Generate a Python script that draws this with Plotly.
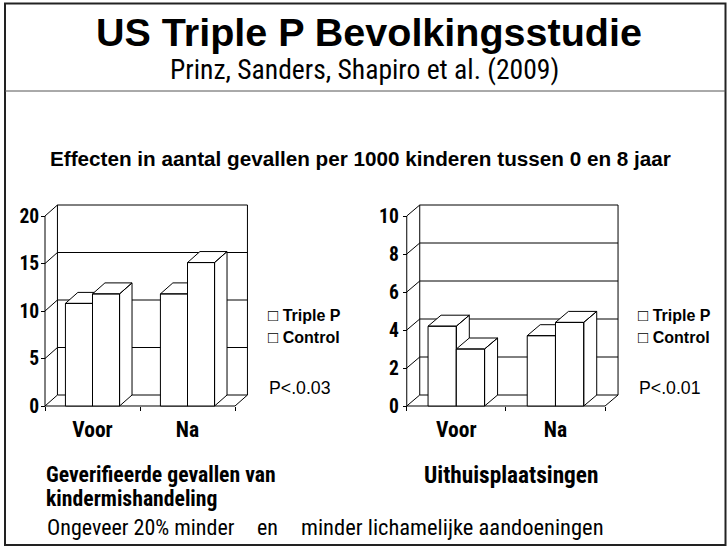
import plotly.graph_objects as go

# ---------------- data ----------------
categories = ["Voor", "Na"]
series_names = ["Triple P", "Control"]

mishandeling_triple_p = [10.8, 11.8]
mishandeling_control = [11.8, 15.1]
mishandeling_ticks = [0, 5, 10, 15, 20]

uithuis_triple_p = [4.2, 3.7]
uithuis_control = [3.0, 4.4]
uithuis_ticks = [0, 2, 4, 6, 8, 10]

# ---------------- layout helpers ----------------
W, H = 727, 546
ARIAL = "Liberation Sans, Arial, sans-serif"
NARROW = "Roboto Condensed, Arial Narrow, Liberation Sans, sans-serif"


def px(x):
    return x / W


def py(y):
    return 1 - y / H


BAR_W = 0.285
DX = 0.131  # depth offset in category units


def frame_xy(ticks, dy, x0=-0.5, x1=1.5):
    xs, ys = [], []
    ymax = max(ticks)

    def seg(a, b):
        xs.extend([a[0], b[0], None])
        ys.extend([a[1], b[1], None])

    for v in ticks:
        seg((x0 + DX, v + dy), (x1 + DX, v + dy))
        seg((x0, v), (x0 + DX, v + dy))
    seg((x0 + DX, dy), (x0 + DX, ymax + dy))
    seg((x1 + DX, dy), (x1 + DX, ymax + dy))
    seg((x0, 0), (x0, ymax))
    seg((x0, 0), (x1, 0))
    seg((x1, 0), (x1 + DX, dy))
    return xs, ys


def bar_xy(left, v, dy):
    r = left + BAR_W
    xs = [left, r, r, left, left, None,
          left, r, r + DX, left + DX, left, None,
          r, r + DX, r + DX, r, r]
    ys = [0, 0, v, v, 0, None,
          v, v, v + dy, v + dy, v, None,
          0, dy, v + dy, v, 0]
    return xs, ys


fig = go.Figure()


def add_chart(xa, ya, tp, ctrl, ticks, dy):
    fx, fy = frame_xy(ticks, dy)
    fig.add_trace(go.Scatter(x=fx, y=fy, mode="lines", xaxis=xa, yaxis=ya,
                             line=dict(color="black", width=1),
                             hoverinfo="skip", showlegend=False))
    for i, cat in enumerate(categories):
        for j, vals in enumerate([tp, ctrl]):
            left = i - BAR_W + j * BAR_W
            bx, by = bar_xy(left, vals[i], dy)
            fig.add_trace(go.Scatter(x=bx, y=by, mode="lines", fill="toself",
                                     fillcolor="white", xaxis=xa, yaxis=ya,
                                     line=dict(color="black", width=1),
                                     name=f"{series_names[j]} {cat}",
                                     hoverinfo="skip", showlegend=False))


add_chart("x", "y", mishandeling_triple_p, mishandeling_control, mishandeling_ticks, 1.158)
add_chart("x2", "y2", uithuis_triple_p, uithuis_control, uithuis_ticks, 0.579)

tickfont_y = dict(family=NARROW, size=19.5, color="black", weight="bold")
tickfont_x = dict(family=NARROW, size=21.5, color="black", weight="bold")


def xaxis_cfg(domain):
    return dict(domain=domain, range=[-0.8, 1.8], anchor="free", position=py(406),
                showgrid=False, zeroline=False, showline=False,
                tickmode="array", tickvals=[0, 1], ticktext=categories,
                ticks="", tickfont=tickfont_x, ticklabelstandoff=8,
                minor=dict(tickmode="array", tickvals=[-0.5, 0.5, 1.5],
                           ticks="outside", ticklen=4, tickcolor="black", tickwidth=1),
                fixedrange=True)


def yaxis_cfg(rng, ticks, pos, standoff):
    return dict(domain=[py(420.25), py(192.25)], range=rng, anchor="free", position=pos,
                showgrid=False, zeroline=False, showline=False,
                tickmode="array", tickvals=ticks, ticks="outside", ticklen=4,
                tickcolor="black", tickwidth=1, tickfont=tickfont_y,
                ticklabelstandoff=standoff, fixedrange=True)


anns = []


def ann(text, x, y, size, family=ARIAL, bold=False, xanchor="left"):
    f = dict(family=family, size=size, color="black", weight="bold" if bold else "normal")
    anns.append(dict(text=text, x=px(x), y=py(y), xref="paper", yref="paper",
                     xanchor=xanchor, yanchor="middle", showarrow=False, font=f))


ann("US Triple P Bevolkingsstudie", 368.5, 32, 39.5, ARIAL, True, "center")
ann("Prinz, Sanders, Shapiro et al. (2009)", 364, 69, 27.6, NARROW, False, "center")
ann("Effecten in aantal gevallen per 1000 kinderen tussen 0 en 8 jaar", 360.5, 158, 20.7, ARIAL, True, "center")

sq = '<span style="font-size:17px;font-weight:normal">□</span>'
for lx, ptxt in [(265.5, "P<.0.03"), (635.5, "P<.0.01")]:
    ann(sq + " " + series_names[0], lx, 315.5, 16, ARIAL, True)
    ann(sq + " " + series_names[1], lx, 337, 16, ARIAL, True)
    ann(ptxt, lx + 1, 388, 17.7, ARIAL, False)

ann("Geverifieerde gevallen van", 44, 474, 21.7, NARROW, True)
ann("kindermishandeling", 44, 498, 21.7, NARROW, True)
ann("Uithuisplaatsingen", 510.7, 475, 23.3, NARROW, True, "center")
ann("Ongeveer 20% minder", 45, 527, 22, NARROW, False)
ann("en", 255, 527, 22, NARROW, False)
ann("minder lichamelijke aandoeningen", 299, 527, 22.5, NARROW, False)

shapes = [
    dict(type="rect", xref="paper", yref="paper", x0=px(5), x1=px(725.5),
         y0=py(545), y1=py(3.5), line=dict(color="#222", width=2)),
    dict(type="line", xref="paper", yref="paper", x0=px(5), x1=px(725.5),
         y0=py(91), y1=py(91), line=dict(color="#555", width=1)),
]

fig.update_layout(
    width=W, height=H, margin=dict(l=0, r=0, t=0, b=0),
    paper_bgcolor="white", plot_bgcolor="rgba(0,0,0,0)",
    showlegend=False,
    xaxis=xaxis_cfg([px(16.5), px(263.5)]),
    yaxis=yaxis_cfg([-1.5, 22.5], mishandeling_ticks, px(45), -2),
    xaxis2=xaxis_cfg([px(377.0), px(634.8)]),
    yaxis2=yaxis_cfg([-0.75, 11.25], uithuis_ticks, px(406.7), 0),
    annotations=anns, shapes=shapes,
)

fig.write_html("out.html", config={"displayModeBar": False},
               post_script="document.body.style.margin='0';document.body.style.overflow='hidden';")
